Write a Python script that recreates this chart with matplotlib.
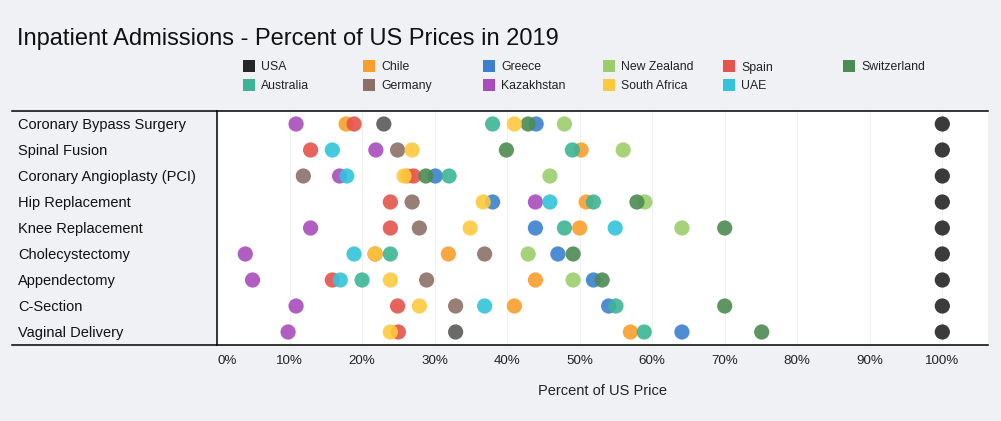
"""Dot plot: inpatient admission prices as a percent of US prices, 2019."""
import matplotlib
matplotlib.use("Agg")
import matplotlib.pyplot as plt
from matplotlib import transforms
from matplotlib.lines import Line2D
from matplotlib.patches import Rectangle

plt.rcParams["font.family"] = ["Liberation Sans", "DejaVu Sans"]

procedures = [
    "Coronary Bypass Surgery", "Spinal Fusion", "Coronary Angioplasty (PCI)",
    "Hip Replacement", "Knee Replacement", "Cholecystectomy", "Appendectomy",
    "C-Section", "Vaginal Delivery",
]

countries = ["USA", "Chile", "Greece", "New Zealand", "Spain", "Switzerland",
             "Australia", "Germany", "Kazakhstan", "South Africa", "UAE"]

colors = ["#262626", "#f99e2b", "#3b80cf", "#9ccd6b", "#e5534b", "#4c8b52",
          "#3cb495", "#8c7067", "#a84cbc", "#fdc93c", "#31c4da"]

# percent of US price, one value per procedure (None = no data)
usa = [100, 100, 100, 100, 100, 100, 100, 100, 100]
chile = [17.8, 50.2, 26.3, 50.9, 50.0, 31.9, 43.9, 41.0, 57.0]
greece = [44.0, None, 30.1, 38.0, 43.9, 47.0, 51.9, 54.0, 64.1]
new_zealand = [47.9, 56.0, 45.9, 59.0, 64.1, 42.9, 49.1, None, None]
spain = [18.9, 12.9, 27.1, 23.9, 23.9, 21.8, 15.9, 24.9, 25.0]
switzerland = [42.9, 39.9, 28.8, 57.9, 70.0, 49.1, 53.1, 70.0, 75.1]
australia = [38.0, 49.0, 32.0, 51.9, 47.9, 23.9, 20.0, 55.0, 58.9]
germany = [23.0, 24.9, 11.9, 26.9, 27.9, 36.9, 28.9, 32.9, 32.9]
kazakhstan = [10.9, 21.9, 16.9, 43.9, 12.9, 3.9, 4.9, 10.9, 9.8]
south_africa = [41.0, 26.9, 25.8, 36.7, 34.9, 21.8, 23.9, 27.9, 23.9]
uae = [None, 15.9, 17.9, 45.9, 54.9, 18.9, 17.0, 36.9, None]

series = [usa, chile, greece, new_zealand, spain, switzerland,
          australia, germany, kazakhstan, south_africa, uae]

# the two Germany dots that show up dark grey in the source
dark_points = {("Germany", 0), ("Germany", 8)}
dark_color = "#5a5b57"

x_ticks = list(range(0, 101, 10))
x_tick_labels = [f"{t}%" for t in x_ticks]

BG = "#eff1f4"
W, H = 1001, 421


def fx(px):
    return px / W


def fy(py):
    return 1 - py / H


fig = plt.figure(figsize=(W / 100, H / 100), dpi=100, facecolor=BG)
ax = fig.add_axes([fx(217), fy(345), fx(988) - fx(217), fy(111) - fy(345)])
ax.set_facecolor("white")

n = len(procedures)
for name, vals, col in zip(countries, series, colors):
    xs, ys, cs = [], [], []
    for i, v in enumerate(vals):
        if v is None:
            continue
        xs.append(v)
        ys.append(i)
        cs.append(dark_color if (name, i) in dark_points else col)
    ax.scatter(xs, ys, s=120, c=cs, alpha=0.9, linewidths=0, zorder=3)

ax.set_xlim(0, 106.3)
ax.set_ylim(n - 0.5, -0.5)
ax.set_yticks([])
ax.set_xticks(x_ticks)
ax.set_xticklabels(x_tick_labels, fontsize=9.6, color="#222222")
ax.get_xticklabels()[0].set_horizontalalignment("left")
ax.tick_params(axis="x", length=0, pad=7)
ax.grid(axis="x", color="#f1f1f1", linewidth=0.8, zorder=0)
ax.set_axisbelow(True)
for side in ["top", "right", "bottom"]:
    ax.spines[side].set_visible(False)
ax.spines["left"].set_color("black")
ax.spines["left"].set_linewidth(1.1)

# horizontal rules running across the label column too
for py in (111, 345):
    fig.add_artist(Line2D([fx(12), fx(988)], [fy(py), fy(py)],
                          color="black", linewidth=1.1))

# category labels, left aligned in the grey column (baseline ~5px below row centre)
trans = transforms.blended_transform_factory(fig.transFigure, ax.transData)
for i, label in enumerate(procedures):
    ax.text(fx(18), i + 5.3 / 26, label, transform=trans, ha="left",
            va="baseline", fontsize=10.5, color="#111111")

fig.text(fx(17), fy(45.5), "Inpatient Admissions - Percent of US Prices in 2019",
         fontsize=17, ha="left", va="baseline", color="#111111")
fig.text(fx(602), fy(395), "Percent of US Price", fontsize=10.5,
         ha="center", va="baseline", color="#222222")

# legend: 6 columns, filled row by row
for k, (name, col) in enumerate(zip(countries, colors)):
    cx = 243 + 120 * (k % 6)
    cy = 66 + 19 * (k // 6)
    fig.add_artist(Rectangle((fx(cx), fy(cy + 6)), fx(12), 12 / H,
                             transform=fig.transFigure, color=col, linewidth=0))
    fig.text(fx(cx + 18), fy(cy + 4.5), name, fontsize=8.8, ha="left",
             va="baseline", color="#222222")

fig.savefig("out.png", dpi=100, facecolor=BG)
